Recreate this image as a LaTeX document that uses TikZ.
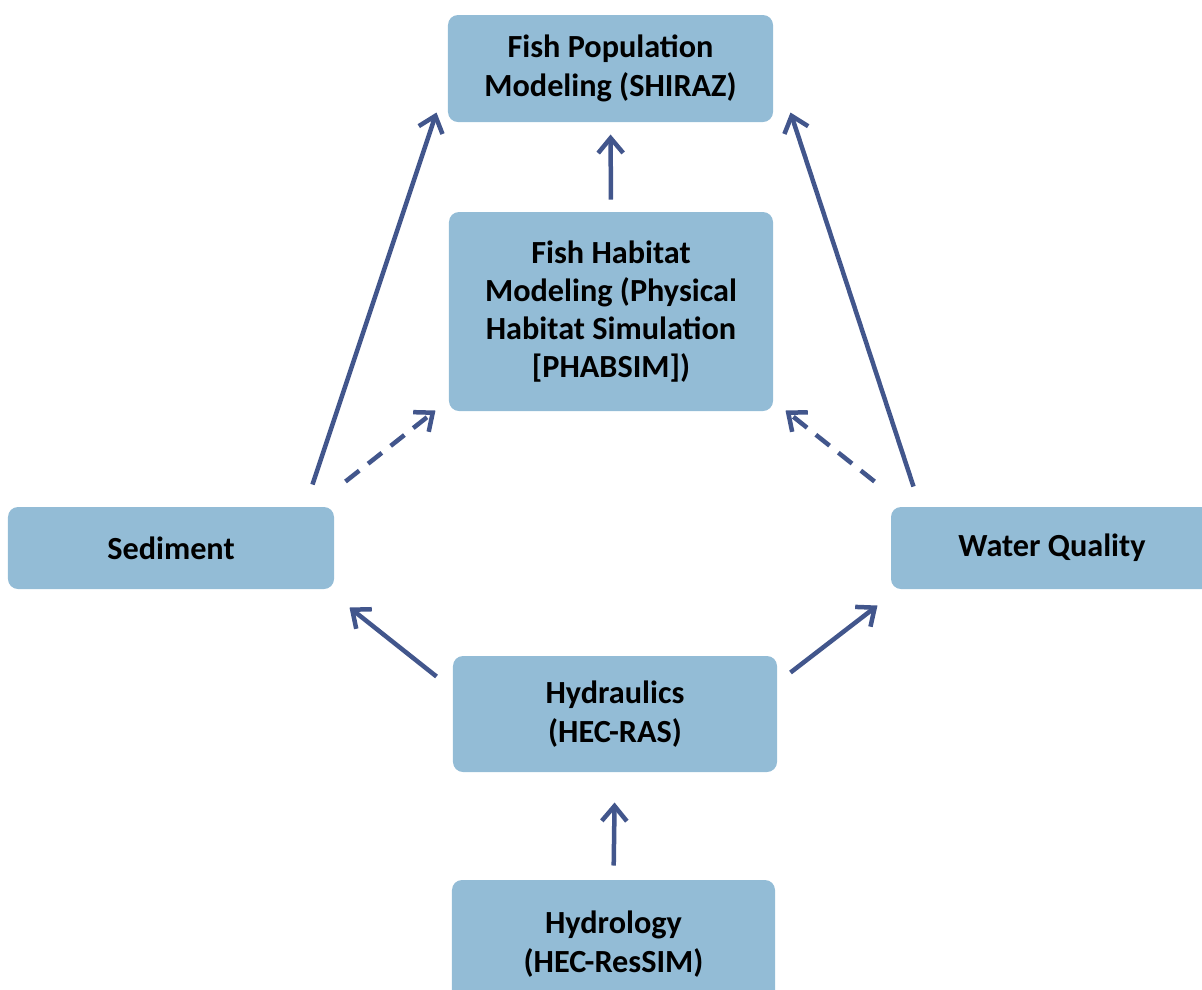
\documentclass[tikz,border=0pt]{standalone}
\usepackage{fontspec}
\setmainfont{Carlito}
\usetikzlibrary{arrows.meta,calc}
\definecolor{boxblue}{RGB}{147,188,214}
\definecolor{arrowblue}{RGB}{66,86,140}

\begin{document}
\begin{tikzpicture}[x=0.4pt, y=-0.4pt, every node/.style={font=\fontsize{12.9}{15.3}\selectfont\bfseries}, box/.style={fill=boxblue, rounded corners=4pt, align=center, inner sep=0pt}, link/.style={arrowblue, line width=1.8pt, -{Straight Barb[length=6pt,width=10pt]}}, dlink/.style={link, dash pattern=on 7pt off 4.5pt}]
	\useasboundingbox (0,0) rectangle (1202,989);
	\node[box, minimum width=130pt, minimum height=42.8pt] (pop) at (610.5,68.5) {Fish Population\\Modeling (SHIRAZ)};
	\node[box, minimum width=129.6pt, minimum height=79.6pt] (hab) at (611,311.5) {Fish Habitat\\Modeling (Physical\\Habitat Simulation\\{[PHABSIM])}};
	\node[box, minimum width=130.4pt, minimum height=32.8pt] (sed) at (171,548) {Sediment};
	\node[box, minimum width=128.8pt, minimum height=32.8pt] (wq) at (1052,548) {Water Quality};
	\node[box, minimum width=129.6pt, minimum height=46.4pt] (hyd) at (615,714) {Hydraulics\\(HEC-RAS)};
	\node[box, minimum width=129.2pt, minimum height=51.2pt] (hydro) at (613.5,944) {Hydrology\\(HEC-ResSIM)};
	\draw[link] ($(sed.north east)+(-22,-22)$) -- ($(pop.south west)+(-11,-10)$);
	\draw[link] ($(wq.north west)+(23,-20)$) -- ($(pop.south east)+(17,-10)$);
	\draw[dlink] ($(sed.north east)+(11,-25)$) -- ($(hab.south west)+(-13,-1)$);
	\draw[dlink] ($(wq.north west)+(-16,-25)$) -- ($(hab.south east)+(12,-1)$);
	\draw[link, shorten <=12pt*0.4, shorten >=12pt*0.4] (hab.north) -- (pop.south);
	\draw[link] ($(hyd.north west)+(-16,21)$) -- ($(sed.south east)+(15,18)$);
	\draw[link] ($(hyd.north east)+(13,17)$) -- ($(wq.south west)+(-13,16)$);
	\draw[link, shorten <=14pt*0.4, shorten >=30pt*0.4] (hydro.north) -- (hyd.south);
\end{tikzpicture}
\end{document}
